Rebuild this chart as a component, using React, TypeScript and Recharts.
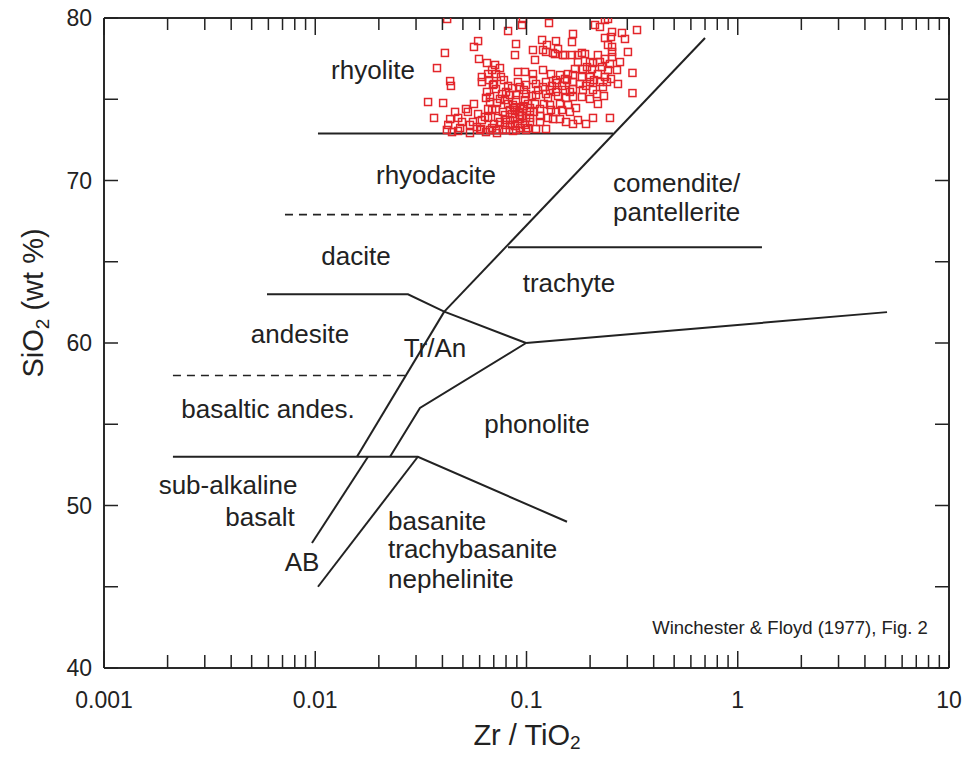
import React from 'react';
import { ScatterChart, Scatter, XAxis, YAxis } from 'recharts';

const FONT = '"Liberation Sans", Arial, Helvetica, sans-serif';
const INK = '#222';

// ---- sample data: Zr/TiO2 and SiO2 (wt %) ----
const ZR_TIO2 = [
  0.0421, 0.059, 0.0564, 0.0411, 0.0596, 0.0377, 0.0435, 0.0439, 0.0342, 0.0403,
  0.0517, 0.0365, 0.0435, 0.0426, 0.0558, 0.0583, 0.0636, 0.065, 0.0672, 0.0658,
  0.0615, 0.0658, 0.042, 0.0444, 0.061, 0.0672, 0.0818, 0.0962, 0.0952, 0.1278,
  0.0892, 0.0882, 0.1073, 0.1185, 0.125, 0.1379, 0.141, 0.1237, 0.1364, 0.1521,
  0.1097, 0.071, 0.0717, 0.0757, 0.0911, 0.0984, 0.1073, 0.1197, 0.1306, 0.1441,
  0.1572, 0.0911, 0.0995, 0.1109, 0.1237, 0.1379, 0.1521, 0.0717, 0.0749, 0.08,
  0.0892, 0.0995, 0.1109, 0.1237, 0.1379, 0.1521, 0.0717, 0.0773, 0.0863, 0.0962,
  0.1039, 0.1159, 0.1292, 0.1441, 0.1572, 0.0749, 0.0836, 0.0932, 0.1039, 0.1159,
  0.1306, 0.1335, 0.1441, 0.1538, 0.0717, 0.08, 0.0892, 0.0995, 0.1109, 0.1237,
  0.2109, 0.2227, 0.2352, 0.2431, 0.3335, 0.2831, 0.2541, 0.2352, 0.2511, 0.2925,
  0.166, 0.1642, 0.2431, 0.2541, 0.2541, 0.3021, 0.1642, 0.1752, 0.1892, 0.2178,
  0.2352, 0.2541, 0.1998, 0.2227, 0.2484, 0.1696, 0.185, 0.2042, 0.2276, 0.2431,
  0.3174, 0.166, 0.183, 0.1998, 0.2178, 0.2352, 0.2511, 0.166, 0.1791, 0.1998,
  0.2227, 0.2404, 0.166, 0.185, 0.2064, 0.2301, 0.3174, 0.166, 0.183, 0.1998,
  0.2178, 0.2064, 0.2484, 0.166, 0.0615, 0.0694, 0.0672, 0.0725, 0.0615, 0.0725,
  0.0773, 0.0932, 0.1073, 0.1197, 0.1292, 0.1394, 0.1555, 0.1934, 0.2064, 0.1197,
  0.1335, 0.1488, 0.183, 0.0791, 0.0836, 0.0882, 0.0932, 0.0984, 0.0836, 0.0882,
  0.0791, 0.0854, 0.0984, 0.1039, 0.0932, 0.1097, 0.0733, 0.0791, 0.0485, 0.054,
  0.0475, 0.065, 0.0687, 0.0665, 0.0702, 0.0643, 0.0687, 0.0658, 0.0702, 0.0643,
  0.0687, 0.0749, 0.0782, 0.0818, 0.0766, 0.0818, 0.0854, 0.08, 0.0863, 0.0911,
  0.0952, 0.0892, 0.0973, 0.1016, 0.1062, 0.1134, 0.1085, 0.1016, 0.1159, 0.121,
  0.1264, 0.132, 0.141, 0.1473, 0.1538, 0.1606, 0.1264, 0.1379, 0.1473, 0.1606,
  0.1715, 0.1752, 0.1913, 0.2087, 0.2155, 0.2327, 0.2681, 0.271, 0.277, 0.1752,
  0.1913, 0.0459, 0.0495, 0.0528, 0.0564, 0.059, 0.0603, 0.054, 0.0474, 0.0873,
  0.0921, 0.0973, 0.0836, 0.0995, 0.0932, 0.0882, 0.1039,
];
const SIO2 = [
  79.94, 78.58, 78.22, 77.85, 77.48, 76.92, 76.12, 75.82, 74.83, 74.77,
  74.4, 73.85, 73.78, 73.42, 73.6, 73.29, 73.91, 75.45, 74.83, 74.4,
  76.37, 76.55, 73.11, 72.98, 73.17, 73.11, 79.2, 79.94, 79.57, 79.69,
  78.4, 77.72, 78.03, 78.65, 78.34, 78.58, 78.09, 77.91, 77.78, 77.72,
  77.42, 77.11, 76.55, 76.37, 76.68, 76.68, 76.55, 76.8, 76.55, 76.49,
  76.55, 76.06, 75.88, 75.94, 76.06, 76.18, 76.25, 75.63, 75.02, 75.45,
  75.26, 75.32, 75.26, 75.32, 75.45, 75.57, 74.4, 74.22, 74.65, 74.4,
  74.22, 74.4, 74.65, 74.71, 74.65, 73.6, 73.72, 73.78, 73.6, 73.6,
  74.34, 73.78, 73.78, 73.6, 73.11, 73.11, 73.11, 73.11, 73.17, 73.17,
  79.57, 79.45, 79.88, 79.94, 79.26, 79.08, 79.14, 78.77, 78.83, 78.71,
  79.02, 78.52, 78.34, 78.22, 77.91, 77.91, 77.72, 77.72, 77.78, 77.72,
  77.48, 77.6, 77.29, 77.29, 77.17, 76.86, 76.86, 76.86, 76.98, 76.8,
  76.62, 76.49, 76.37, 76.37, 76.55, 76.37, 76.25, 76.06, 75.94, 76.06,
  76.06, 76.06, 75.63, 75.57, 75.57, 75.75, 75.38, 75.14, 75.14, 75.02,
  74.71, 73.85, 73.85, 73.48, 76.06, 75.88, 75.14, 74.77, 73.72, 72.92,
  73.11, 75.75, 76.18, 75.75, 75.57, 76.0, 76.18, 76.98, 77.23, 78.03,
  77.85, 77.72, 77.85, 74.95, 75.26, 74.34, 74.03, 74.95, 73.42, 73.85,
  74.03, 75.69, 73.42, 73.85, 74.46, 74.71, 73.85, 73.42, 73.23, 73.42,
  73.85, 77.23, 76.8, 76.18, 75.94, 75.08, 74.34, 73.85, 73.48, 72.98,
  73.23, 76.92, 76.18, 75.82, 75.32, 74.71, 74.09, 73.72, 73.05, 73.48,
  73.97, 74.95, 75.57, 74.71, 75.2, 75.57, 74.22, 73.23, 73.97, 74.71,
  75.08, 75.82, 75.2, 75.82, 75.08, 75.45, 73.85, 74.22, 74.34, 74.22,
  74.46, 77.29, 75.82, 76.18, 75.32, 75.2, 76.8, 75.94, 77.29, 73.72,
  73.48, 74.22, 73.6, 74.22, 74.71, 74.09, 73.11, 72.92, 73.05, 74.46,
  74.22, 74.58, 74.34, 73.85, 73.23, 73.35, 74.46,
];

// ---- classification boundaries (Zr/TiO2, SiO2) ----
const B_UPPER_DIAGONAL: [number, number][] = [[0.0408, 61.93], [0.7, 78.77]];
const B_LOWER_DIAGONAL: [number, number][] = [[0.0408, 61.93], [0.01576, 53]];
const B_AB_LEFT: [number, number][] = [[0.01777, 53], [0.00965, 47.69]];
const B_ANDESITE_TOP: [number, number][] = [[0.00591, 63], [0.02748, 63], [0.0408, 61.93], [0.0995, 60]];
const B_TRAN_LOWER: [number, number][] = [[0.0995, 60], [0.03131, 56], [0.02259, 53]];
const B_AB_RIGHT: [number, number][] = [[0.0306, 53], [0.0103, 45]];
const B_BASALT_TOP: [number, number][] = [[0.00212, 53], [0.0306, 53], [0.1555, 49]];
const B_TRACHYTE_LOWER: [number, number][] = [[0.0995, 60], [5.09, 61.9]];
const B_TRACHYTE_UPPER: [number, number][] = [[0.0817, 65.9], [1.302, 65.9]];
const B_RHYOLITE: [number, number][] = [[0.0103, 72.9], [0.2567, 72.9]];
const B_DACITE_DASH: [number, number][] = [[0.00719, 67.9], [0.1121, 67.9]];
const B_BASANDES_DASH: [number, number][] = [[0.00212, 58], [0.0266, 58]];

const SOLID_BOUNDARIES = [
  B_UPPER_DIAGONAL, B_LOWER_DIAGONAL, B_AB_LEFT, B_ANDESITE_TOP, B_TRAN_LOWER,
  B_AB_RIGHT, B_BASALT_TOP, B_TRACHYTE_LOWER, B_TRACHYTE_UPPER, B_RHYOLITE,
];
const DASHED_BOUNDARIES = [B_DACITE_DASH, B_BASANDES_DASH];

// ---- field names ----
const FIELD_NAMES = [
  'rhyolite', 'rhyodacite', 'comendite/', 'pantellerite', 'dacite', 'trachyte',
  'andesite', 'Tr/An', 'basaltic andes.', 'phonolite', 'sub-alkaline', 'basalt',
  'AB', 'basanite', 'trachybasanite', 'nephelinite',
];
const FIELD_X = [
  0.01876, 0.03728, 0.2567, 0.2567, 0.01559, 0.1589,
  0.00847, 0.03688, 0.005975, 0.1121, 0.003864, 0.005475,
  0.00866, 0.02211, 0.02211, 0.02211,
];
const FIELD_Y = [
  76.8, 70.34, 69.85, 68.06, 65.35, 63.69,
  60.55, 59.69, 55.94, 55.02, 51.26, 49.29,
  46.52, 49.05, 47.32, 45.48,
];
const FIELD_LEFT_ALIGNED = ['comendite/', 'pantellerite', 'basanite', 'trachybasanite', 'nephelinite'];

const CITATION = 'Winchester & Floyd (1977), Fig. 2';
const CITATION_POS = { x: 1.767, y: 42.52 };

// ---- axes ----
const X_DOMAIN: [number, number] = [0.001, 10];
const Y_DOMAIN: [number, number] = [40, 80];
const X_MAJOR = [0.001, 0.01, 0.1, 1, 10];
const X_MAJOR_LABELS = ['0.001', '0.01', '0.1', '1', '10'];
const X_MINOR_MULT = [2, 3, 4, 5, 6, 7, 8, 9];
const Y_TICKS = [40, 45, 50, 55, 60, 65, 70, 75, 80];
const Y_LABELED = [40, 50, 60, 70, 80];

const X_TICKS: number[] = X_MAJOR.flatMap((d, i) =>
  i < X_MAJOR.length - 1 ? [d, ...X_MINOR_MULT.map((m) => +(d * m).toPrecision(6))] : [d]
);

const samplePoints = ZR_TIO2.map((x, i) => ({ x, y: SIO2[i] }));
const toPts = (arr: [number, number][]) => arr.map(([x, y]) => ({ x, y }));
const fieldLabels = FIELD_NAMES.map((t, i) => ({ x: FIELD_X[i], y: FIELD_Y[i], text: t }));

const majorIndex = (v: number) => X_MAJOR.findIndex((d) => Math.abs(d - v) / d < 1e-6);

const BottomTick = (props: any) => {
  const { x, y, payload } = props;
  const idx = majorIndex(payload.value);
  const major = idx >= 0;
  return (
    <g>
      <line x1={x} x2={x} y1={y} y2={y - (major ? 17 : 13)} stroke={INK} strokeWidth={1.5} />
      {major && (
        <text x={x} y={y + 40} textAnchor="middle" fontSize={23} fontFamily={FONT} fill={INK}>
          {X_MAJOR_LABELS[idx]}
        </text>
      )}
    </g>
  );
};

const TopTick = (props: any) => {
  const { x, y, payload } = props;
  const major = majorIndex(payload.value) >= 0;
  return <line x1={x} x2={x} y1={y} y2={y + (major ? 17 : 12)} stroke={INK} strokeWidth={1.5} />;
};

const LeftTick = (props: any) => {
  const { x, y, payload } = props;
  const labeled = Y_LABELED.includes(payload.value);
  return (
    <g>
      <line x1={x} x2={x + 14} y1={y} y2={y} stroke={INK} strokeWidth={1.5} />
      {labeled && (
        <text x={x - 12} y={y + 8} textAnchor="end" fontSize={23} fontFamily={FONT} fill={INK}>
          {payload.value}
        </text>
      )}
    </g>
  );
};

const RightTick = (props: any) => {
  const { x, y } = props;
  return <line x1={x} x2={x - 14} y1={y} y2={y} stroke={INK} strokeWidth={1.5} />;
};

const SquareShape = (p: any) => (
  <rect x={p.cx - 3.5} y={p.cy - 3.5} width={7} height={7} fill="none" stroke="#e3262b" strokeWidth={1.5} />
);
const NoShape = () => <g />;
const FieldText = (p: any) => (
  <text
    x={p.cx}
    y={p.cy}
    textAnchor={FIELD_LEFT_ALIGNED.includes(p.payload.text) ? 'start' : 'middle'}
    dominantBaseline="central"
    fontSize={26}
    fontFamily={FONT}
    fill={INK}
  >
    {p.payload.text}
  </text>
);
const CitationText = (p: any) => (
  <text x={p.cx} y={p.cy} textAnchor="middle" dominantBaseline="central" fontSize={18.5} fontFamily={FONT} fill={INK}>
    {p.payload.text}
  </text>
);

const axisLine = { stroke: '#2a2a2a', strokeWidth: 2 };

export default function App() {
  return (
    <div style={{ position: 'absolute', left: 0, top: 0, width: 972, height: 757, background: '#fff' }}>
      <ScatterChart width={972} height={757} margin={{ top: 17, right: 22, bottom: 88, left: 103 }}>
        <XAxis
          dataKey="x"
          type="number"
          scale="log"
          domain={X_DOMAIN}
          allowDataOverflow
          ticks={X_TICKS}
          interval={0}
          height={1}
          tickSize={0}
          tickMargin={0}
          tickLine={false}
          axisLine={axisLine}
          tick={<BottomTick />}
        />
        <XAxis
          xAxisId="top"
          orientation="top"
          dataKey="x"
          type="number"
          scale="log"
          domain={X_DOMAIN}
          allowDataOverflow
          ticks={X_TICKS}
          interval={0}
          height={1}
          tickSize={0}
          tickMargin={0}
          tickLine={false}
          axisLine={axisLine}
          tick={<TopTick />}
        />
        <YAxis
          dataKey="y"
          type="number"
          domain={Y_DOMAIN}
          allowDataOverflow
          ticks={Y_TICKS}
          interval={0}
          width={1}
          tickSize={0}
          tickMargin={0}
          tickLine={false}
          axisLine={axisLine}
          tick={<LeftTick />}
        />
        <YAxis
          yAxisId="right"
          orientation="right"
          dataKey="y"
          type="number"
          domain={Y_DOMAIN}
          allowDataOverflow
          ticks={Y_TICKS}
          interval={0}
          width={1}
          tickSize={0}
          tickMargin={0}
          tickLine={false}
          axisLine={axisLine}
          tick={<RightTick />}
        />
        {SOLID_BOUNDARIES.map((b, i) => (
          <Scatter
            key={'s' + i}
            data={toPts(b)}
            line={{ stroke: INK, strokeWidth: 2 }}
            lineType="joint"
            shape={NoShape}
            fill={INK}
            isAnimationActive={false}
          />
        ))}
        {DASHED_BOUNDARIES.map((b, i) => (
          <Scatter
            key={'d' + i}
            data={toPts(b)}
            line={{ stroke: INK, strokeWidth: 1.6, strokeDasharray: '8 6' }}
            lineType="joint"
            shape={NoShape}
            fill={INK}
            isAnimationActive={false}
          />
        ))}
        <Scatter data={fieldLabels} shape={FieldText} isAnimationActive={false} />
        <Scatter data={[{ ...CITATION_POS, text: CITATION }]} shape={CitationText} isAnimationActive={false} />
        <Scatter data={samplePoints} shape={SquareShape} isAnimationActive={false} />
      </ScatterChart>
      <svg
        width={972}
        height={757}
        style={{ position: 'absolute', left: 0, top: 0, pointerEvents: 'none' }}
      >
        <text x={527} y={745} textAnchor="middle" fontSize={29} fontFamily={FONT} fill={INK}>
          Zr / TiO
          <tspan fontSize={19} dy={4}>2</tspan>
        </text>
        <text
          transform="translate(43, 303) rotate(-90)"
          textAnchor="middle"
          fontSize={29}
          fontFamily={FONT}
          fill={INK}
        >
          SiO
          <tspan fontSize={19} dy={6}>2</tspan>
          <tspan dy={-6}> (wt %)</tspan>
        </text>
      </svg>
    </div>
  );
}
